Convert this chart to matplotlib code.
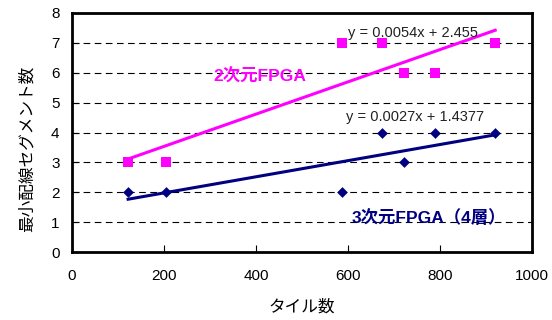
import matplotlib
matplotlib.use("Agg")
import matplotlib.pyplot as plt
import numpy as np

plt.rcParams['font.family'] = ['Liberation Sans', 'Noto Sans CJK JP', 'DejaVu Sans']

tiles = [122, 204, 588, 673, 722, 790, 920]
seg_2d = [3, 3, 7, 7, 6, 6, 7]
seg_3d = [2, 2, 2, 4, 3, 4, 4]
fit_2d = (0.0054, 2.455)
fit_3d = (0.0027, 1.4377)
label_2d = "2次元FPGA"
label_3d = "3次元FPGA（4層）"
eq_2d = "y = 0.0054x + 2.455"
eq_3d = "y = 0.0027x + 1.4377"
xlabel = "タイル数"
ylabel = "最小配線セグメント数"

fig = plt.figure(figsize=(5.52, 3.2), dpi=100)
ax = fig.add_axes([72/552, 1-252/320, 460/552, 239/320])

mag = "#FF00FF"
navy = "#000080"

xs = np.array([min(tiles), max(tiles)])
ax.plot(xs, fit_2d[0]*xs + fit_2d[1], color=mag, lw=2.2, zorder=3)
ax.plot(xs, fit_3d[0]*xs + fit_3d[1], color=navy, lw=2.2, zorder=3)
ax.scatter(tiles, seg_2d, marker='s', s=55, color=mag, zorder=4, linewidths=0)
ax.scatter(tiles, seg_3d, marker='D', s=30, color=navy, zorder=4, linewidths=0)

ax.set_xlim(0, 1000)
ax.set_ylim(0, 8)
ax.set_xticks(range(0, 1001, 200))
ax.set_yticks(range(0, 9))
for y in range(1, 8):
    ax.axhline(y, color='black', lw=0.8, ls=(0, (6, 4)), zorder=1)
for s in ax.spines.values():
    s.set_linewidth(2)
ax.tick_params(axis='both', direction='in', length=5, width=0.8, labelsize=11, pad=9)
ax.tick_params(axis='x', pad=12)

ax.set_xlabel(xlabel, fontsize=12, labelpad=12)
ax.set_ylabel(ylabel, fontsize=12, labelpad=8)
ax.yaxis.set_label_coords(-0.082, 0.43)

ax.text(601, 7.33, eq_2d, fontsize=10.5, color='#222222', ha='left', va='center')
ax.text(596, 4.52, eq_3d, fontsize=10.5, color='#222222', ha='left', va='center')
ax.text(308, 5.86, label_2d, fontsize=12.5, color=mag, fontweight='bold', ha='left', va='center')
ax.text(609, 1.17, label_3d, fontsize=12.5, color=navy, fontweight='bold', ha='left', va='center')

fig.savefig("out.png", dpi=100)
